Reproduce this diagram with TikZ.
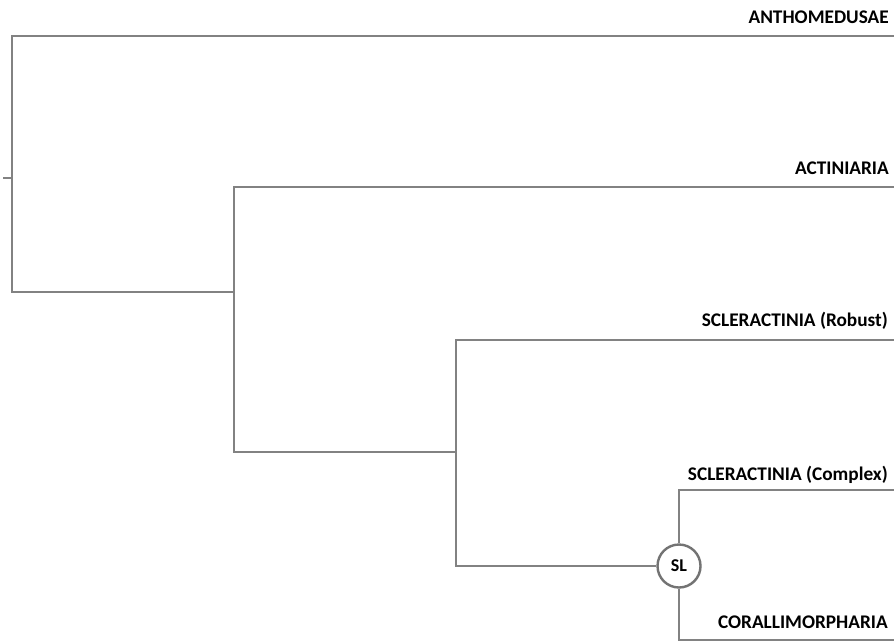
\documentclass[tikz,border=0pt]{standalone}
\usepackage{fontspec}
\setmainfont{Carlito}
\usetikzlibrary{positioning}
\usetikzlibrary{calc}
\usetikzlibrary{shadows}
\definecolor{branchgray}{RGB}{130,130,130}
\definecolor{rimgray}{RGB}{115,115,115}

\begin{document}
\begin{tikzpicture}[
    x=1pt, y=-1pt,
    % node styles
    taxon/.style = {
      anchor=base east,
      inner sep=0pt,
      font=\bfseries\fontsize{19.3}{22}\selectfont,
      text=black
    },
    sltag/.style = {
      circle,
      draw=rimgray,
      line width=2.4pt,
      fill=white,
      minimum size=43pt,
      inner sep=0pt,
      font=\bfseries\fontsize{18}{20}\selectfont,
      drop shadow={opacity=0.25, shadow xshift=1pt, shadow yshift=-1pt}
    },
    % branch style
    branch/.style = {line width=2.8pt, draw=branchgray}
  ]

  \useasboundingbox (0,0) rectangle (894,641);

  % --- Junctions
  \coordinate (stub) at (3,178);
  \coordinate (root) at (12,178);
  \coordinate (rootTop) at (12,36);
  \coordinate (rootBot) at (12,292);
  \coordinate (nodeB) at (234,292);
  \coordinate (nodeBTop) at (234,187);
  \coordinate (nodeBBot) at (234,452);
  \coordinate (nodeC) at (456,452);
  \coordinate (nodeCTop) at (456,340);
  \coordinate (nodeCBot) at (456,566);
  \node[sltag] (sl) at (679,566) {SL};
  \coordinate (slTop) at (679,490);
  \coordinate (slBot) at (679,640);

  % --- Leaf ends
  \coordinate (anthoEnd) at (894,36);
  \coordinate (actinEnd) at (894,187);
  \coordinate (robustEnd) at (894,340);
  \coordinate (complexEnd) at (894,490);
  \coordinate (coralEnd) at (894,640);

  % --- Labels
  \node[taxon] (antho) at (889,23) {ANTHOMEDUSAE};
  \node[taxon] (actin) at (889,174) {ACTINIARIA};
  \node[taxon] (robust) at (888,326) {SCLERACTINIA (Robust)};
  \node[taxon] (complex) at (888,480) {SCLERACTINIA (Complex)};
  \node[taxon] (coral) at (888,628) {CORALLIMORPHARIA};

  % --- Branches
  \draw[branch] (stub) -- (root);
  \draw[branch] (anthoEnd) -- (rootTop) -- (rootBot) -- (nodeB);
  \draw[branch] (actinEnd) -- (nodeBTop) -- (nodeBBot) -- (nodeC);
  \draw[branch] (robustEnd) -- (nodeCTop) -- (nodeCBot) -- (sl.west);
  \draw[branch] (complexEnd) -- (slTop) -- (sl.north);
  \draw[branch] (coralEnd) -- (slBot) -- (sl.south);
\end{tikzpicture}
\end{document}
